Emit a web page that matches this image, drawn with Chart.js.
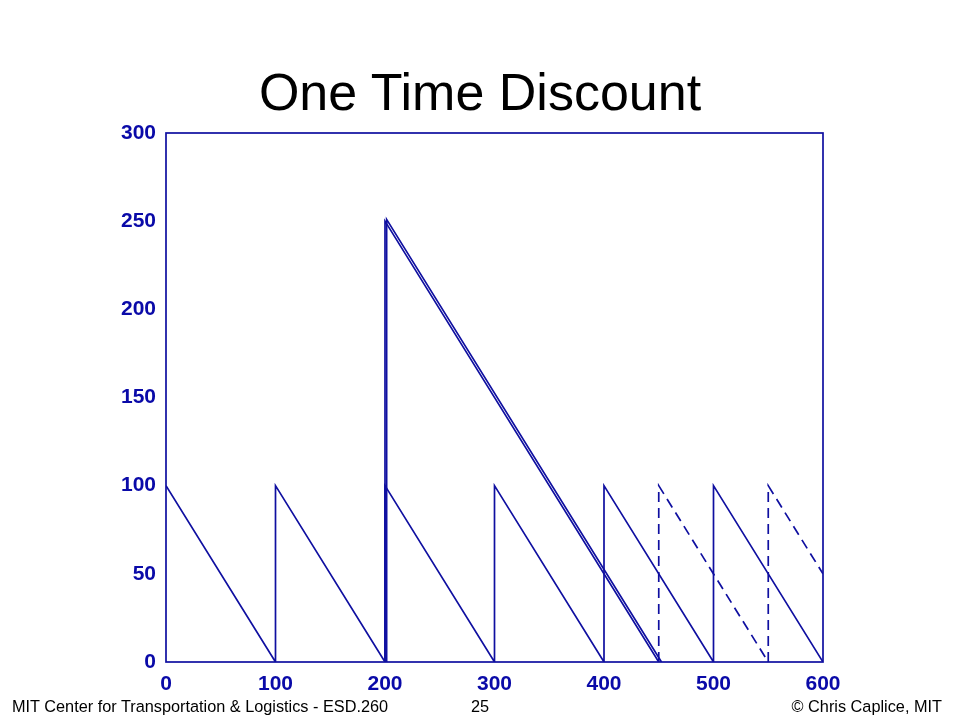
<!DOCTYPE html>
<html>
<head>
<meta charset="utf-8">
<script src="https://cdn.jsdelivr.net/npm/chart.js@4"></script>
<style>
  body { margin: 0; background: #fff; width: 960px; height: 720px; position: relative; overflow: hidden; font-family: "Liberation Sans", Arial, sans-serif; }
  #title { position: absolute; left: 0; width: 960px; top: 62px; text-align: center; font-size: 52px; color: #000; }
  .foot { position: absolute; top: 697px; font-size: 16.3px; color: #000; }
  #wrap { position: absolute; left: 0; top: 0; width: 960px; height: 720px; }
</style>
</head>
<body>
<div id="wrap"><canvas id="myChart" width="960" height="720"></canvas></div>
<div id="title">One Time Discount</div>
<div class="foot" style="left:12px">MIT Center for Transportation &amp; Logistics - ESD.260</div>
<div class="foot" style="left:471px">25</div>
<div class="foot" style="right:18px">© Chris Caplice, MIT</div>
<script>
// regular ordering cycle (sawtooth)
var base_x = [0, 100, 100, 200, 200, 300, 300, 400, 400, 500, 500, 600];
var base_y = [100, 0, 100, 0, 100, 0, 100, 0, 100, 0, 100, 0];
// one time discount order
var big_x = [200, 200, 450];
var big_y = [0, 250, 0];
var big2_x = [201.5, 201.5, 452.5];
var big2_y = [0, 251, 0];
// cycles after the discount order (dashed)
var after_x = [450, 450, 550, 550, 600];
var after_y = [0, 100, 0, 100, 50];

var x_ticks = [0, 100, 200, 300, 400, 500, 600];
var y_ticks = [0, 50, 100, 150, 200, 250, 300];

const blue = "#0f0fa0";
const tick_blue = "#0a0aa8";

function toPoints(xs, ys) {
  var arr = [];
  for (let i = 0; i < xs.length; i++) arr.push({ x: xs[i], y: ys[i] });
  return arr;
}

function lineSet(xs, ys, dash) {
  return {
    data: toPoints(xs, ys),
    borderColor: blue,
    borderWidth: 1.7,
    borderDash: dash,
    pointRadius: 0,
    fill: false,
    tension: 0,
  };
}

const frame = {
  id: "frame",
  afterDatasetsDraw(chart) {
    const a = chart.chartArea;
    const ctx = chart.ctx;
    ctx.save();
    ctx.strokeStyle = blue;
    ctx.lineWidth = 1.7;
    ctx.strokeRect(a.left, a.top, a.right - a.left, a.bottom - a.top);
    ctx.restore();
  },
};

const config = {
  type: "line",
  data: {
    datasets: [
      lineSet(base_x, base_y, []),
      lineSet(big_x, big_y, []),
      lineSet(big2_x, big2_y, []),
      lineSet(after_x, after_y, [10, 6]),
    ],
  },
  options: {
    responsive: false,
    animation: false,
    layout: { padding: { left: 0, top: 133, right: 137, bottom: 0 } },
    plugins: {
      legend: { display: false },
      tooltip: { enabled: false },
    },
    scales: {
      x: {
        type: "linear",
        min: 0,
        max: 600,
        afterBuildTicks: (s) => { s.ticks = x_ticks.map((v) => ({ value: v })); },
        afterFit: (s) => { s.height = 58; },
        grid: { display: false },
        border: { display: false },
        ticks: {
          color: tick_blue,
          padding: 2,
          maxRotation: 0,
          font: { family: "Liberation Sans", size: 21, weight: "bold" },
        },
      },
      y: {
        min: 0,
        max: 300,
        afterBuildTicks: (s) => { s.ticks = y_ticks.map((v) => ({ value: v })); },
        afterFit: (s) => { s.width = 166; },
        grid: { display: false },
        border: { display: false },
        ticks: {
          color: tick_blue,
          padding: 2,
          font: { family: "Liberation Sans", size: 21, weight: "bold" },
        },
      },
    },
  },
  plugins: [frame],
};

const myChart = new Chart(document.getElementById("myChart"), config);
</script>
</body>
</html>
